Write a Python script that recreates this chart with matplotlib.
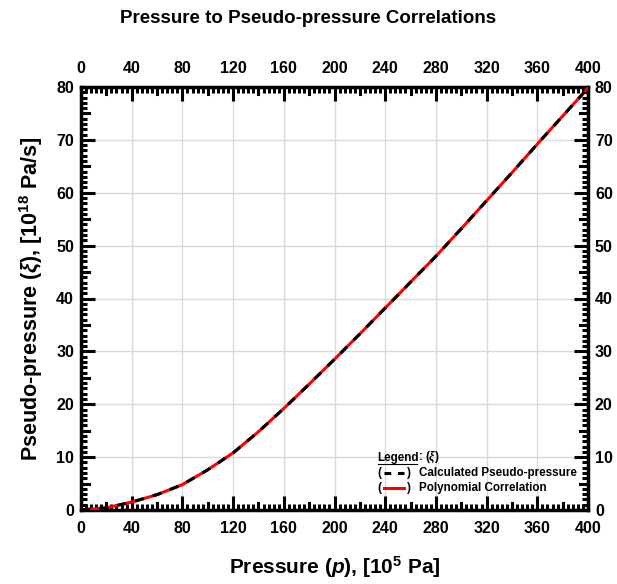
import matplotlib
matplotlib.use('Agg')
import matplotlib.pyplot as plt
from matplotlib.ticker import MultipleLocator, FixedLocator
import numpy as np

matplotlib.rcParams['font.family'] = 'Liberation Sans'
matplotlib.rcParams['font.weight'] = 'bold'
matplotlib.rcParams['mathtext.fontset'] = 'custom'
matplotlib.rcParams['mathtext.rm'] = 'Liberation Sans:bold'
matplotlib.rcParams['mathtext.it'] = 'Liberation Sans:bold:italic'
matplotlib.rcParams['mathtext.bf'] = 'Liberation Sans:bold'

# data
pressure = [0, 20, 40, 60, 80, 100, 120, 140, 160, 180, 200,
            220, 240, 260, 280, 300, 320, 340, 360, 380, 400]
pseudo_calc = [0, 0.4, 1.5, 2.9, 4.8, 7.6, 10.8, 14.8, 19.2, 23.8, 28.5,
               33.3, 38.2, 43.1, 48.0, 53.2, 58.5, 63.8, 69.2, 74.5, 79.8]
pseudo_poly = [0, 0.4, 1.5, 2.9, 4.8, 7.6, 10.8, 14.8, 19.2, 23.8, 28.5,
               33.3, 38.2, 43.1, 48.0, 53.2, 58.5, 63.8, 69.2, 74.5, 79.8]
x_ticks = [0, 40, 80, 120, 160, 200, 240, 280, 320, 360, 400]
y_ticks = [0, 10, 20, 30, 40, 50, 60, 70, 80]

fig = plt.figure(figsize=(6.17, 5.84), dpi=100)
ax = fig.add_axes([81/617, 1-510/584, 507/617, 423/584])

ax.plot(pressure, pseudo_poly, color='red', lw=2.2, zorder=3)
ax.plot(pressure, pseudo_calc, color='black', lw=2.2, ls=(0, (3, 3)), zorder=4)

ax.set_xlim(0, 400)
ax.set_ylim(0, 80)
ax.xaxis.set_major_locator(FixedLocator(x_ticks))
ax.yaxis.set_major_locator(FixedLocator(y_ticks))
ax.xaxis.set_minor_locator(MultipleLocator(4))
ax.yaxis.set_minor_locator(MultipleLocator(1))
ax.grid(True, which='major', color='#d9d9d9', lw=1, zorder=0)

for sp in ax.spines.values():
    sp.set_linewidth(2.5)

ax.tick_params(which='both', direction='in', top=True, right=True,
               labeltop=True, labelright=True, width=2.2)
ax.tick_params(which='major', length=10, labelsize=11.5)
ax.tick_params(axis='x', which='major', pad=8)
ax.tick_params(axis='y', which='major', pad=5)
ax.tick_params(which='minor', length=4.5)

# medium ticks (every 20 on x, every 5 on y)
med_x = list(range(20, 400, 40))
med_y = list(range(5, 80, 10))
for xv in med_x:
    ax.plot([xv, xv], [0, 1.3], color='black', lw=2.2, clip_on=False, zorder=5)
    ax.plot([xv, xv], [80, 78.7], color='black', lw=2.2, clip_on=False, zorder=5)
for yv in med_y:
    ax.plot([0, 6.5], [yv, yv], color='black', lw=2.2, clip_on=False, zorder=5)
    ax.plot([400, 393.5], [yv, yv], color='black', lw=2.2, clip_on=False, zorder=5)

ax.set_xlabel(r'Pressure ($p$), [10$^{5}$ Pa]', fontsize=15, fontweight='bold', labelpad=13)
ax.set_ylabel(r'Pseudo-pressure ($\xi$), [10$^{18}$ Pa/s]', fontsize=15.5, fontweight='bold', labelpad=8)
fig.suptitle('Pressure to Pseudo-pressure Correlations', fontsize=13.5, fontweight='bold', y=0.983)

# legend box
tr = ax.transAxes
fs = 8.4
ax.text(0.584, 0.124, 'Legend', transform=tr, fontsize=fs, va='center', ha='left')
ax.text(0.665, 0.124, r': ($\xi$)', transform=tr, fontsize=fs, va='center', ha='left')
ax.plot([0.585, 0.663], [0.108, 0.108], transform=tr, color='black', lw=0.8)
ax.text(0.584, 0.0875, '(', transform=tr, fontsize=fs, va='center')
ax.plot([0.597, 0.637], [0.0875, 0.0875], transform=tr, color='black', lw=2.2, ls=(0, (2.2, 2.2)))
ax.text(0.643, 0.0875, ')', transform=tr, fontsize=fs, va='center')
ax.text(0.667, 0.0875, 'Calculated Pseudo-pressure', transform=tr, fontsize=fs, va='center')
ax.text(0.584, 0.0525, '(', transform=tr, fontsize=fs, va='center')
ax.plot([0.597, 0.637], [0.0525, 0.0525], transform=tr, color='red', lw=2.2)
ax.text(0.643, 0.0525, ')', transform=tr, fontsize=fs, va='center')
ax.text(0.667, 0.0525, 'Polynomial Correlation', transform=tr, fontsize=fs, va='center')

plt.savefig('out.png', dpi=100)
